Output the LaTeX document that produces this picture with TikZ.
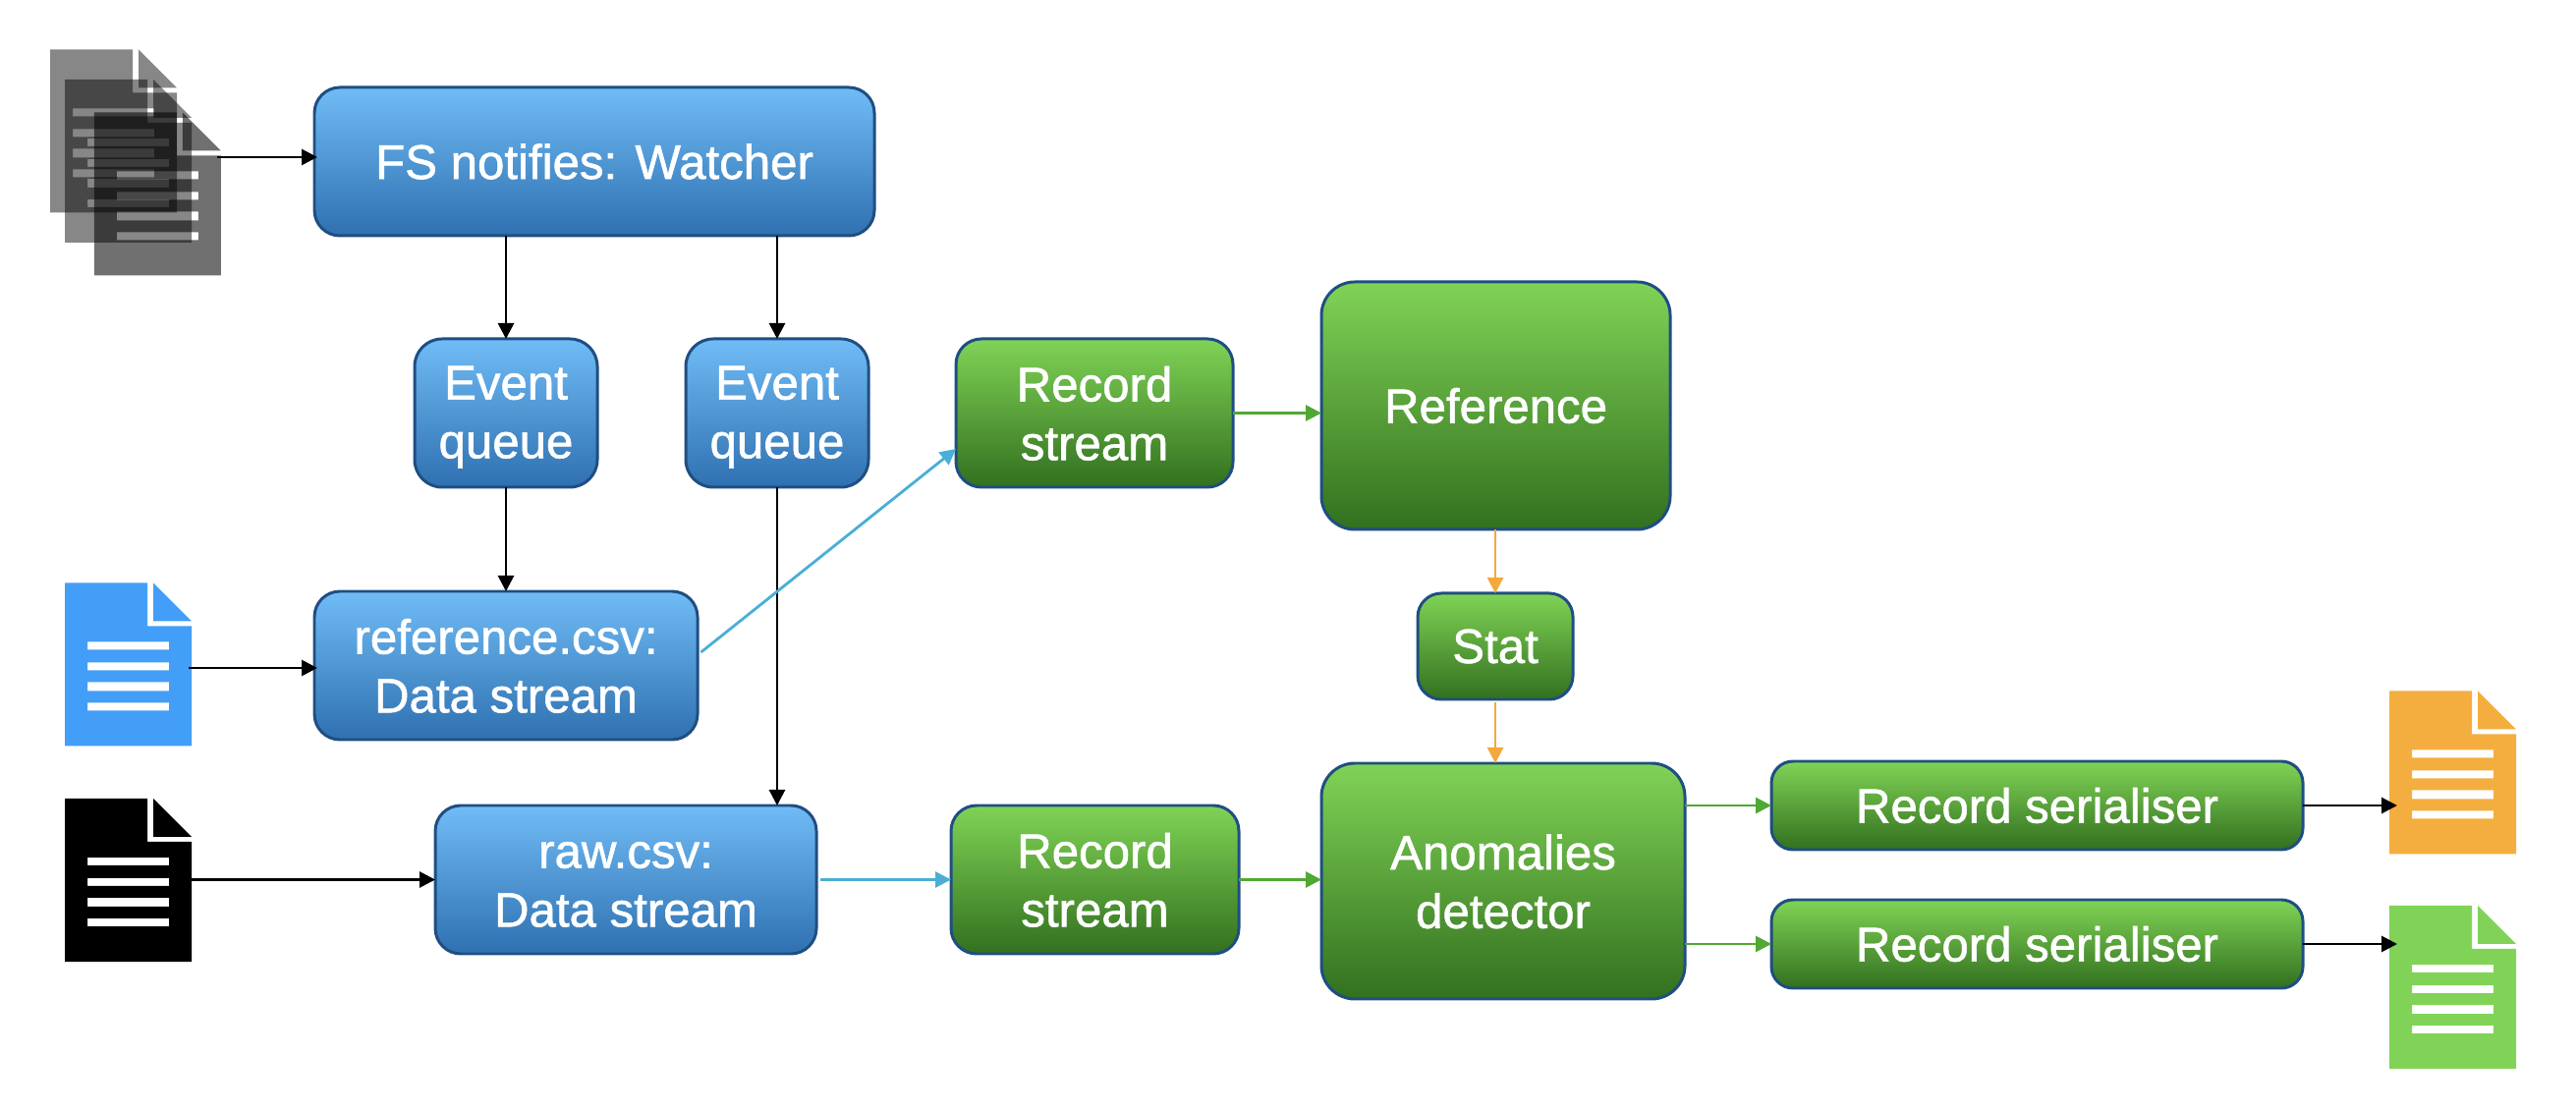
\documentclass[tikz,border=0pt]{standalone}
\usepackage{xcolor}
\usepackage{fontspec}
\setmainfont{Liberation Sans}
\newfontfamily\boxfont[FakeBold=1.2]{Liberation Sans}
\usepackage{tikz}
\usetikzlibrary{shapes.geometric,arrows.meta,calc,positioning}

\definecolor{boxline}{HTML}{1F4E82}
\definecolor{bluetop}{HTML}{70BCF6}
\definecolor{bluebot}{HTML}{2F70B0}
\definecolor{greentop}{HTML}{80D356}
\definecolor{greenbot}{HTML}{32701F}
\definecolor{linkblue}{HTML}{4AAED6}
\definecolor{linkgreen}{HTML}{4FA833}
\definecolor{linkorange}{HTML}{F3A93C}
\definecolor{docblue}{HTML}{439EF8}
\definecolor{docorange}{HTML}{F3AE3F}
\definecolor{docgreen}{HTML}{81D358}

\newcommand{\boxstrut}{\rule[-1.8pt]{0pt}{13.8pt}}
\newcommand{\docshape}[3]{%
	\node[docbox] (#1) at (#2) {};
	\fill[even odd rule,#3,shift={(#1.north west)}]
		(0,0) -- (.84,0) -- (.84,-.44) -- (1.29,-.44) -- (1.29,-1.66) -- (0,-1.66) -- cycle
		(.90,0) -- (1.29,-.39) -- (.90,-.39) -- cycle
		(.23,-.60) rectangle (1.06,-.68)
		(.23,-.81) rectangle (1.06,-.89)
		(.23,-1.01) rectangle (1.06,-1.10)
		(.23,-1.22) rectangle (1.06,-1.30);
}

\begin{document}
\begin{tikzpicture}[arrow/.style = {-{Triangle[length=1.6mm,width=1.6mm]},line width=.8pt}, node distance=2cm]
	\tikzset{box/.style={rectangle,draw=boxline,line width=.85pt,inner sep=0pt,outer sep=0pt,text=white,align=center,font=\boxfont\fontsize{14}{17}\selectfont}}
	\tikzset{bluebox/.style={box,top color=bluetop,bottom color=bluebot}}
	\tikzset{greenbox/.style={box,top color=greentop,bottom color=greenbot}}
	\tikzset{docbox/.style={rectangle,inner sep=0pt,outer sep=0pt,minimum width=1.29cm,minimum height=1.66cm}}

	\useasboundingbox (0,0) rectangle (26.22,-11.30);

	% Watcher
	\node[bluebox, minimum width=5.70cm, minimum height=1.51cm, rounded corners=.26cm] (watcher) at (6.05,-1.645) {FS notifies: Watcher};

	% Event queues
	\node[bluebox, minimum width=1.86cm, minimum height=1.51cm, rounded corners=.28cm] (eventa) at (5.15,-4.205) {\boxstrut Event\\\boxstrut queue};
	\node[bluebox, right of=eventa, node distance=2.76cm, minimum width=1.86cm, minimum height=1.51cm, rounded corners=.28cm] (eventb) {\boxstrut Event\\\boxstrut queue};

	% Data streams
	\node[bluebox, below of=eventa, node distance=2.57cm, minimum width=3.90cm, minimum height=1.51cm, rounded corners=.26cm] (csvref) {\boxstrut reference.csv:\\\boxstrut Data stream};
	\node[bluebox, minimum width=3.88cm, minimum height=1.51cm, rounded corners=.26cm] (csvraw) at (6.37,-8.955) {\boxstrut raw.csv:\\\boxstrut Data stream};

	% Record streams
	\node[greenbox, minimum width=2.82cm, minimum height=1.51cm, rounded corners=.26cm] (recorda) at (11.14,-4.205) {\boxstrut Record\\\boxstrut stream};
	\node[greenbox, right of=csvraw, node distance=4.775cm, minimum width=2.93cm, minimum height=1.51cm, rounded corners=.26cm] (recordb) {\boxstrut Record\\\boxstrut stream};

	% Reference and stat
	\node[greenbox, minimum width=3.55cm, minimum height=2.52cm, rounded corners=.34cm] (refbox) at (15.225,-4.13) {Reference};
	\node[greenbox, minimum width=1.58cm, minimum height=1.08cm, rounded corners=.24cm] (stat) at (15.22,-6.58) {Stat};

	% Detector
	\node[greenbox, minimum width=3.70cm, minimum height=2.40cm, rounded corners=.34cm] (detector) at (15.30,-8.97) {\boxstrut Anomalies\\\boxstrut detector};

	% Serialisers
	\node[greenbox, minimum width=5.41cm, minimum height=.90cm, rounded corners=.22cm] (seriala) at (20.735,-8.20) {Record serialiser};
	\node[greenbox, below of=seriala, node distance=1.41cm, minimum width=5.41cm, minimum height=.90cm, rounded corners=.22cm] (serialb) {Record serialiser};

	% Files
	\docshape{stacka}{1.155,-1.335}{black,fill opacity=.47}
	\docshape{stackb}{1.305,-1.64}{black,fill opacity=.47}
	\docshape{stackc}{1.6025,-1.975}{black,fill opacity=.56}
	\docshape{filebluedoc}{1.305,-6.765}{docblue}
	\docshape{fileblackdoc}{1.305,-8.96}{black}
	\docshape{fileorangedoc}{24.965,-7.865}{docorange}
	\docshape{filegreendoc}{24.965,-10.05}{docgreen}

	% Arrows
	\coordinate (stackout) at (2.21,-1.60);
	\coordinate (blueout) at ($(filebluedoc.east)+(-.03,-.035)$);
	\draw [arrow,shorten >=-.03cm] (stackout) -- (stackout -| watcher.west);
	\draw [arrow] (watcher.south -| eventa) -- (eventa);
	\draw [arrow] (watcher.south -| eventb) -- (eventb);
	\draw [arrow] (eventa) -- (csvref);
	\draw [arrow] (eventb) -- (eventb |- csvraw.north);
	\draw [arrow,shorten >=-.03cm] (blueout) -- (blueout -| csvref.west);
	\draw [arrow] (fileblackdoc.east |- csvraw) -- (csvraw);

	\draw [arrow,draw=linkblue] ($(csvref.east)+(.035,.135)$) -- ($(recorda.west)+(0,-.365)$);
	\draw [arrow,draw=linkblue,shorten <=.04cm] (csvraw) -- (recordb);

	\draw [arrow,draw=linkgreen] (recorda.east) -- (recorda.east -| refbox.west);
	\draw [arrow,draw=linkgreen] (recordb) -- (detector.west |- recordb);
	\draw [arrow,draw=linkgreen] (detector.east |- seriala) -- (seriala);
	\draw [arrow,draw=linkgreen] (detector.east |- serialb) -- (serialb);

	\draw [arrow,draw=linkorange] (refbox.south -| stat) -- (stat);
	\draw [arrow,draw=linkorange,shorten <=.03cm] (stat) -- (stat |- detector.north);

	\draw [arrow,shorten >=-.08cm] (seriala) -- (seriala -| fileorangedoc.west);
	\draw [arrow,shorten >=-.08cm] (serialb) -- (serialb -| filegreendoc.west);

\end{tikzpicture}
\end{document}
